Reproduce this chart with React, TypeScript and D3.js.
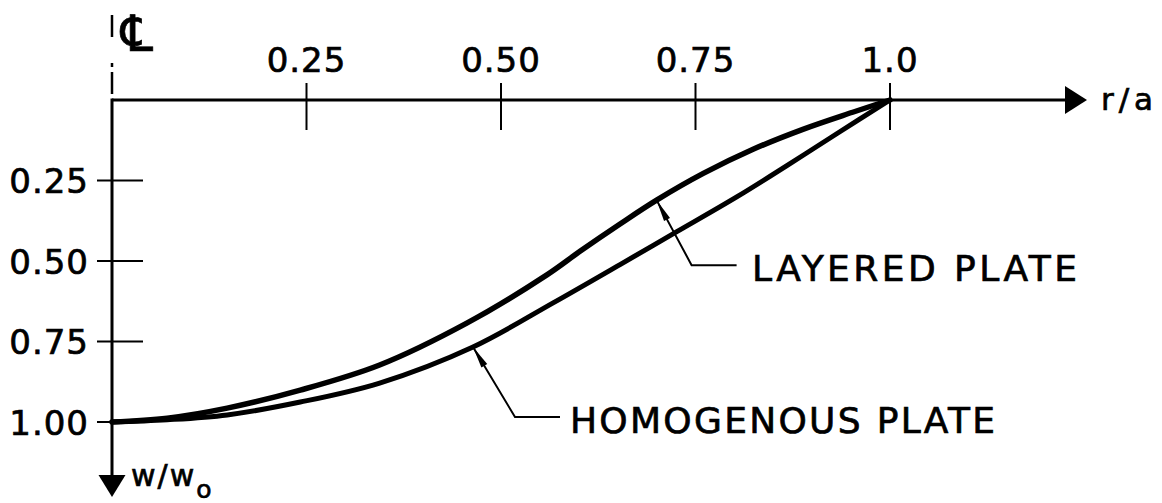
import React from "react";
import * as d3 from "d3";

// Normalised radial position r/a and deflection w/w0 for the two plates
const radius: number[] = [0, 0.071, 0.148, 0.242, 0.344, 0.456, 0.559, 0.602, 0.653, 0.7, 0.76, 0.824, 0.888, 0.952, 1.0];
const layeredDeflection: number[] = [1.0, 0.988, 0.957, 0.901, 0.823, 0.693, 0.543, 0.469, 0.385, 0.311, 0.228, 0.153, 0.091, 0.038, 0.0];

const radiusHomog: number[] = [0, 0.071, 0.148, 0.242, 0.344, 0.464, 0.567, 0.653, 0.726, 0.803, 0.868, 0.932, 1.0];
const homogDeflection: number[] = [1.0, 0.993, 0.978, 0.938, 0.879, 0.767, 0.63, 0.511, 0.409, 0.301, 0.203, 0.104, 0.0];

const xTicks: number[] = [0.25, 0.5, 0.75, 1.0];
const xTickLabels: string[] = ["0.25", "0.50", "0.75", "1.0"];
const yTicks: number[] = [0.25, 0.5, 0.75, 1.0];
const yTickLabels: string[] = ["0.25", "0.50", "0.75", "1.00"];

// Leader anchors (r/a on each curve)
const layeredAnchor = 0.7;
const homogAnchor = 0.464;

const W = 1162;
const H = 503;
const FONT = "'DejaVu Sans', Verdana, sans-serif";

export default function App() {
  const x = d3.scaleLinear().domain([0, 1]).range([112, 890]);
  const y = d3.scaleLinear().domain([0, 1]).range([100, 422]);

  const line = d3
    .line<[number, number]>()
    .x((d) => x(d[0]))
    .y((d) => y(d[1]))
    .curve(d3.curveCatmullRom.alpha(0.5));

  const layered: [number, number][] = radius.map((r, i) => [r, layeredDeflection[i]]);
  const homog: [number, number][] = radiusHomog.map((r, i) => [r, homogDeflection[i]]);

  const x0 = x(0);
  const y0 = y(0);

  // leader with a slim arrowhead pointing at the curve
  const leader = (tx: number, ty: number, dx: number, dy: number, run: number) => {
    const len = Math.hypot(dx, dy);
    const ux = dx / len;
    const uy = dy / len;
    const headLen = 22;
    const hw = 3.4;
    const bx = tx + ux * headLen;
    const by = ty + uy * headLen;
    const head = `M${tx},${ty} L${bx - uy * hw},${by + ux * hw} L${bx + uy * hw},${by - ux * hw} Z`;
    return (
      <g>
        <path d={`M${tx},${ty} L${tx + dx},${ty + dy} L${tx + dx + run},${ty + dy}`} fill="none" stroke="#000" strokeWidth={2} />
        <path d={head} fill="#000" />
      </g>
    );
  };

  const lx = x(layeredAnchor);
  const ly = y(layeredDeflection[radius.indexOf(layeredAnchor)]);
  const hx = x(homogAnchor);
  const hy = y(homogDeflection[radiusHomog.indexOf(homogAnchor)]);

  const textStyle = { stroke: "#000", strokeWidth: 0.7 };

  return (
    <svg
      width={W}
      height={H}
      viewBox={`0 0 ${W} ${H}`}
      style={{ position: "absolute", left: 0, top: 0, display: "block", background: "#fff" }}
    >
      <rect x={0} y={0} width={W} height={H} fill="#fff" />

      {/* centre line */}
      <line x1={x0} y1={15} x2={x0} y2={95} stroke="#000" strokeWidth={2.5} strokeDasharray="22,26,4,5,22" />
      <text x={121} y={51} fontFamily={FONT} fontSize={50} fill="#000" {...textStyle}>℄</text>

      {/* r/a axis */}
      <line x1={x0} y1={y0} x2={1068} y2={y0} stroke="#000" strokeWidth={3} />
      <path d={`M1087,${y0} L1065,${y0 - 14} L1065,${y0 + 14} Z`} fill="#000" />
      <text x={1101} y={110} fontFamily={FONT} fontSize={31} textLength={52} lengthAdjust="spacing" fill="#000" {...textStyle}>r/a</text>
      {xTicks.map((t, i) => (
        <g key={`xt${i}`}>
          <line x1={x(t)} y1={y0 - 17} x2={x(t)} y2={y0 + 30} stroke="#000" strokeWidth={2} />
          <text x={x(t)} y={72} textAnchor="middle" fontFamily={FONT} fontSize={34} letterSpacing={1} fill="#000" {...textStyle}>
            {xTickLabels[i]}
          </text>
        </g>
      ))}

      {/* w/w0 axis */}
      <line x1={x0} y1={y0 - 1.5} x2={x0} y2={478} stroke="#000" strokeWidth={3} />
      <path d={`M${x0},497 L${x0 - 13.5},475 L${x0 + 13.5},475 Z`} fill="#000" />
      <text x={131} y={486} fontFamily={FONT} fontSize={30} letterSpacing={2} fill="#000" {...textStyle}>
        w/w
        <tspan fontSize={25} dy={12}>o</tspan>
      </text>
      {yTicks.map((t, i) => (
        <g key={`yt${i}`}>
          <line x1={x0 - 15} y1={y(t)} x2={x0 + 31} y2={y(t)} stroke="#000" strokeWidth={2} />
          <text x={89} y={y(t) + 12.5} textAnchor="end" fontFamily={FONT} fontSize={34} letterSpacing={1} fill="#000" {...textStyle}>
            {yTickLabels[i]}
          </text>
        </g>
      ))}

      {/* deflection curves */}
      <path d={line(homog) ?? ""} fill="none" stroke="#000" strokeWidth={5} strokeLinecap="round" strokeLinejoin="round" />
      <path d={line(layered) ?? ""} fill="none" stroke="#000" strokeWidth={5.5} strokeLinecap="round" strokeLinejoin="round" />

      {/* annotations */}
      {leader(lx, ly, 35, 65, 45)}
      <text x={752} y={281} fontFamily={FONT} fontSize={36} textLength={325} lengthAdjust="spacing" fill="#000" {...textStyle}>LAYERED PLATE</text>

      {leader(hx, hy, 42, 70, 45)}
      <text x={570} y={433} fontFamily={FONT} fontSize={36} textLength={425} lengthAdjust="spacing" fill="#000" {...textStyle}>HOMOGENOUS PLATE</text>
    </svg>
  );
}
